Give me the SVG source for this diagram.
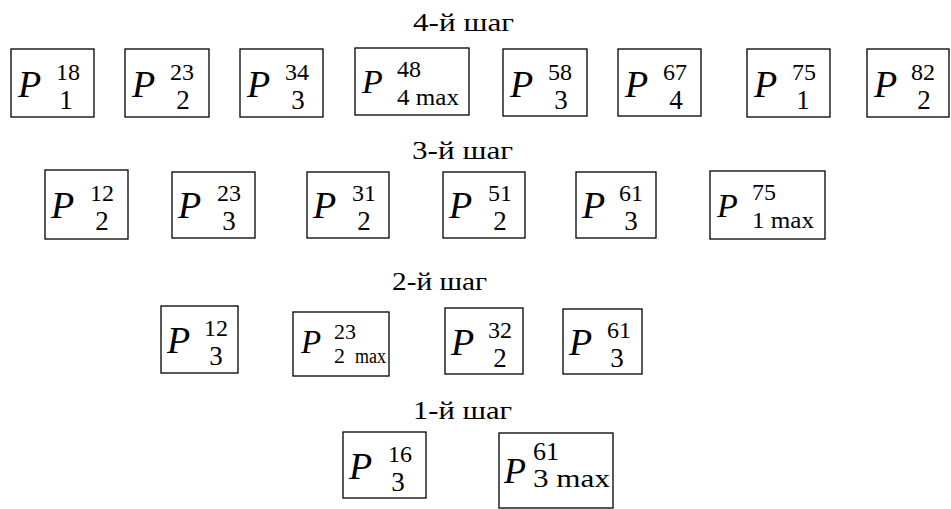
<svg xmlns="http://www.w3.org/2000/svg" width="951" height="509" viewBox="0 0 951 509">
<style>
.b{fill:#fff;stroke:#000;stroke-width:1.3}
text{fill:#000;font-family:Liberation Serif,Times New Roman,Times,DejaVu Serif,Noto Serif,serif}
.P{font-size:38px;font-style:italic}
.sp{font-size:24px;text-anchor:middle}
.sb{font-size:27px;text-anchor:middle}
.ms{font-size:24px}
.lbl{font-size:26px}
</style>
<rect width="951" height="509" fill="#fff"/>
<g id="labels">
<text class="lbl" x="413" y="31" textLength="101" lengthAdjust="spacingAndGlyphs">4-й шаг</text>
<text class="lbl" x="412" y="159" textLength="101" lengthAdjust="spacingAndGlyphs">3-й шаг</text>
<text class="lbl" x="392" y="290" textLength="95" lengthAdjust="spacingAndGlyphs">2-й шаг</text>
<text class="lbl" x="413" y="419" textLength="99" lengthAdjust="spacingAndGlyphs">1-й шаг</text>
</g>
<g id="connectors"></g>
<g id="r4n1"><rect class="b" x="11" y="49" width="83" height="68"/><text class="P" x="18" y="97">P</text><text class="sp" x="68" y="80">18</text><text class="sb" x="66" y="109">1</text></g>
<g id="r4n2"><rect class="b" x="125" y="49" width="84" height="68"/><text class="P" x="132" y="97">P</text><text class="sp" x="182" y="80">23</text><text class="sb" x="183" y="109">2</text></g>
<g id="r4n3"><rect class="b" x="240" y="49" width="83" height="68"/><text class="P" x="247" y="97">P</text><text class="sp" x="297" y="80">34</text><text class="sb" x="298" y="109">3</text></g>
<g id="r4n4"><rect class="b" x="355" y="48" width="114" height="67"/><text class="P" x="362" y="93" style="font-size:34px">P</text><text class="ms" x="397" y="77">48</text><text class="ms" x="397" y="105" textLength="62" lengthAdjust="spacingAndGlyphs">4 max</text></g>
<g id="r4n5"><rect class="b" x="503" y="49" width="84" height="67"/><text class="P" x="510" y="97">P</text><text class="sp" x="560" y="80">58</text><text class="sb" x="561" y="109">3</text></g>
<g id="r4n6"><rect class="b" x="618" y="49" width="83" height="67"/><text class="P" x="625" y="97">P</text><text class="sp" x="675" y="80">67</text><text class="sb" x="676" y="109">4</text></g>
<g id="r4n7"><rect class="b" x="747" y="49" width="83" height="68"/><text class="P" x="754" y="97">P</text><text class="sp" x="804" y="80">75</text><text class="sb" x="803" y="109">1</text></g>
<g id="r4n8"><rect class="b" x="867" y="49" width="82" height="68"/><text class="P" x="874" y="97">P</text><text class="sp" x="923" y="80">82</text><text class="sb" x="924" y="109">2</text></g>
<g id="r3n1"><rect class="b" x="45" y="170" width="83" height="69"/><text class="P" x="51" y="218">P</text><text class="sp" x="102" y="201">12</text><text class="sb" x="102" y="230">2</text></g>
<g id="r3n2"><rect class="b" x="172" y="172" width="83" height="66"/><text class="P" x="178" y="218">P</text><text class="sp" x="229" y="201">23</text><text class="sb" x="229" y="230">3</text></g>
<g id="r3n3"><rect class="b" x="307" y="172" width="82" height="66"/><text class="P" x="313" y="218">P</text><text class="sp" x="364" y="201">31</text><text class="sb" x="364" y="230">2</text></g>
<g id="r3n4"><rect class="b" x="443" y="172" width="82" height="66"/><text class="P" x="449" y="218">P</text><text class="sp" x="500" y="201">51</text><text class="sb" x="500" y="230">2</text></g>
<g id="r3n5"><rect class="b" x="576" y="172" width="80" height="66"/><text class="P" x="582" y="218">P</text><text class="sp" x="631" y="201">61</text><text class="sb" x="631" y="230">3</text></g>
<g id="r3n6"><rect class="b" x="710" y="171" width="115" height="68"/><text class="P" x="717" y="217" style="font-size:34px">P</text><text class="ms" x="752" y="200">75</text><text class="ms" x="752" y="228" textLength="62" lengthAdjust="spacingAndGlyphs">1 max</text></g>
<g id="r2n1"><rect class="b" x="161" y="306" width="77" height="67"/><text class="P" x="167" y="353">P</text><text class="sp" x="216" y="336">12</text><text class="sb" x="216" y="365">3</text></g>
<g id="r2n2"><rect class="b" x="293" y="312" width="96" height="64"/><text class="P" x="301" y="353" style="font-size:33px">P</text><text x="334" y="339" style="font-size:22px">23</text><text x="334" y="363" style="font-size:22px">2</text><text x="355" y="363" style="font-size:20px" textLength="31" lengthAdjust="spacingAndGlyphs">max</text></g>
<g id="r2n3"><rect class="b" x="445" y="308" width="78" height="66"/><text class="P" x="451" y="355">P</text><text class="sp" x="500" y="338">32</text><text class="sb" x="500" y="367">2</text></g>
<g id="r2n4"><rect class="b" x="563" y="309" width="79" height="65"/><text class="P" x="569" y="355">P</text><text class="sp" x="619" y="338">61</text><text class="sb" x="617" y="367">3</text></g>
<g id="r1n1"><rect class="b" x="343" y="432" width="83" height="66"/><text class="P" x="349" y="479">P</text><text class="sp" x="400" y="462">16</text><text class="sb" x="398" y="491">3</text></g>
<g id="r1n2"><rect class="b" x="499" y="433" width="114" height="75"/><text class="P" x="504" y="483" style="font-size:36px">P</text><text x="533" y="460" style="font-size:26px">61</text><text x="533" y="487" style="font-size:26px" textLength="77" lengthAdjust="spacingAndGlyphs">3 max</text></g>
</svg>
